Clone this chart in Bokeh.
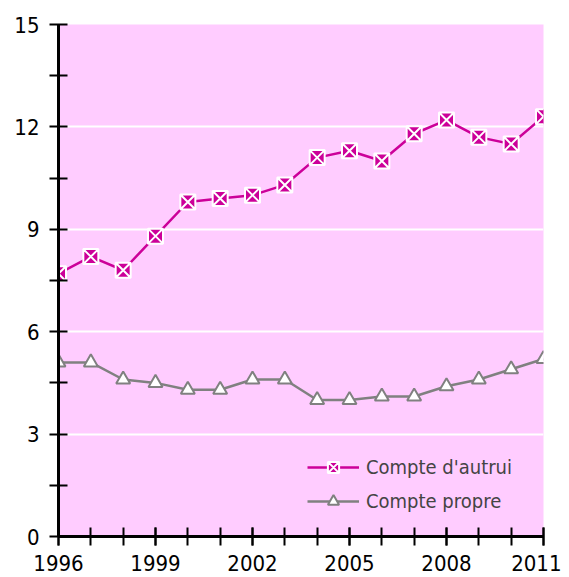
from bokeh.plotting import figure
from bokeh.models import FixedTicker, Legend, LegendItem, ColumnDataSource
from bokeh.embed import file_html
from bokeh.resources import INLINE

years = list(range(1996, 2012))
compte_autrui = [7.7, 8.2, 7.8, 8.8, 9.8, 9.9, 10.0, 10.3, 11.1, 11.3, 11.0, 11.8, 12.2, 11.7, 11.5, 12.3]
compte_propre = [5.1, 5.1, 4.6, 4.5, 4.3, 4.3, 4.6, 4.6, 4.0, 4.0, 4.1, 4.1, 4.4, 4.6, 4.9, 5.2]
x_ticks = [1996, 1999, 2002, 2005, 2008, 2011]
y_ticks = [0, 3, 6, 9, 12, 15]
y_minor = [1.5, 4.5, 7.5, 10.5, 13.5]
grid_ticks = [3, 6, 9, 12]

FONT = "DejaVu Sans Condensed"
MAGENTA = "#CC0099"
GREY = "#808080"

p = figure(width=561, height=575, output_backend="svg", toolbar_location=None,
           x_range=(1996, 2011), y_range=(0, 15),
           min_border_left=58, min_border_right=18, min_border_top=24, min_border_bottom=39)
p.background_fill_color = "#FFCCFF"
p.border_fill_color = "white"
p.outline_line_color = None

src = ColumnDataSource(dict(x=years, a=compte_autrui, b=compte_propre))

l1 = p.line("x", "a", source=src, line_color=MAGENTA, line_width=2.5)
m1 = p.scatter("x", "a", source=src, marker="square_x", size=15, fill_color=MAGENTA,
               line_color="white", line_width=2)
l2 = p.line("x", "b", source=src, line_color=GREY, line_width=2.5)
m2 = p.scatter("x", "b", source=src, marker="triangle", size=14, fill_color="white",
               line_color=GREY, line_width=2)

# axes
p.xaxis.ticker = FixedTicker(ticks=x_ticks, minor_ticks=years)
p.yaxis.ticker = FixedTicker(ticks=y_ticks, minor_ticks=y_minor)
for ax in (p.xaxis[0], p.yaxis[0]):
    ax.axis_line_color = "black"
    ax.axis_line_width = 3
    ax.major_tick_line_color = "black"
    ax.major_tick_line_width = 2
    ax.minor_tick_line_color = "black"
    ax.minor_tick_line_width = 2
    ax.major_tick_in = 9
    ax.major_tick_out = 9
    ax.minor_tick_in = 9
    ax.minor_tick_out = 9
    ax.major_label_text_font = FONT
    ax.major_label_text_font_size = "22px"
    ax.major_label_text_color = "black"
p.yaxis.major_label_standoff = 10
p.xaxis.major_label_standoff = 9

p.xgrid.grid_line_color = None
p.ygrid.ticker = FixedTicker(ticks=grid_ticks)
p.ygrid.grid_line_color = "white"
p.ygrid.grid_line_width = 2

legend = Legend(items=[LegendItem(label="Compte d'autrui", renderers=[l1, m1]),
                       LegendItem(label="Compte propre", renderers=[l2, m2])],
                location=(249, 21), padding=0, margin=0, spacing=6,
                glyph_width=52, glyph_height=28, label_standoff=7,
                label_text_font=FONT, label_text_font_size="20px",
                background_fill_alpha=0, border_line_alpha=0)
p.add_layout(legend)

open("out.html", "w").write(file_html(p, INLINE))
